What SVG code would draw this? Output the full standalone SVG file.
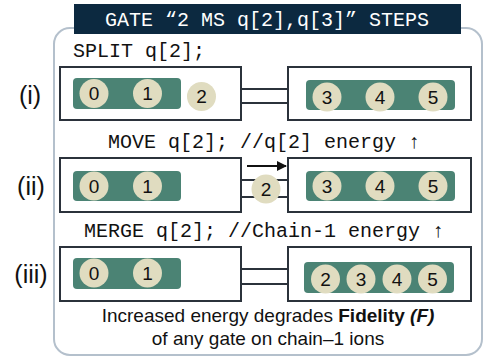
<svg xmlns="http://www.w3.org/2000/svg" width="485" height="360" viewBox="0 0 485 360">
<style>
.mono{font-family:"Liberation Mono","DejaVu Sans Mono",monospace;font-size:20px;fill:#111}
.hdr{font-family:"Liberation Mono","DejaVu Sans Mono",monospace;font-size:20px;fill:#fff}
.box{fill:#fff;stroke:#2b323b;stroke-width:2}
.chain{fill:#4b8374}
.ion{fill:#e0dcc0}
.num{font-family:"Liberation Sans",Arial,sans-serif;font-size:19px;fill:#111;text-anchor:middle}
.lbl{font-family:"Liberation Sans",Arial,sans-serif;font-size:25px;fill:#111;text-anchor:middle}
.note{font-family:"Liberation Sans",Arial,sans-serif;font-size:19px;fill:#111;text-anchor:middle}
.wire{stroke:#2b323b;stroke-width:2;fill:none}
</style>
<defs>
<marker id="ah" markerWidth="10" markerHeight="10" refX="9" refY="5" orient="auto" markerUnits="userSpaceOnUse"><path d="M0,0 L10,5 L0,10 Z" fill="#111"/></marker>
</defs>
<rect x="54" y="28" width="428" height="327" rx="16" fill="#fff" stroke="#b4c0cc" stroke-width="2"/>
<g id="header">
<rect x="74" y="4" width="387" height="30" fill="#0c2940"/>
<text class="hdr" x="267" y="26" text-anchor="middle">GATE “2 MS q[2],q[3]” STEPS</text>
</g>
<g id="step-labels">
<text class="mono" x="73" y="57">SPLIT q[2];</text>
<text class="mono" x="264" y="148" text-anchor="middle">MOVE q[2]; //q[2] energy ↑</text>
<text class="mono" x="264" y="237" text-anchor="middle">MERGE q[2]; //Chain-1 energy ↑</text>
<text class="lbl" x="30" y="104">(i)</text>
<text class="lbl" x="31" y="195">(ii)</text>
<text class="lbl" x="31" y="283">(iii)</text>
</g>
<g id="connectors">
<line class="wire" x1="241" y1="89" x2="288" y2="89"/>
<line class="wire" x1="241" y1="103" x2="288" y2="103"/>
<line class="wire" x1="241" y1="180" x2="288" y2="180"/>
<line class="wire" x1="241" y1="197" x2="288" y2="197"/>
<line class="wire" x1="241" y1="269" x2="288" y2="269"/>
<line class="wire" x1="241" y1="284" x2="288" y2="284"/>
<line x1="247" y1="166" x2="286" y2="166" stroke="#111" stroke-width="2" marker-end="url(#ah)"/>
</g>
<g id="row1-left">
<rect class="box" x="60" y="67" width="181" height="53"/>
<rect class="chain" x="73" y="78" width="108" height="31" rx="4"/>
<circle class="ion" cx="94" cy="93.5" r="14.5"/><text class="num" x="94" y="100">0</text>
<circle class="ion" cx="147.5" cy="93.5" r="14.5"/><text class="num" x="147.5" y="100">1</text>
<circle class="ion" cx="201.5" cy="96.5" r="14.5"/><text class="num" x="201.5" y="103">2</text>
</g>
<g id="row1-right">
<rect class="box" x="288" y="67" width="183" height="53"/>
<rect class="chain" x="306" y="80" width="149" height="30" rx="4"/>
<circle class="ion" cx="327" cy="97" r="14.5"/><text class="num" x="327" y="103.5">3</text>
<circle class="ion" cx="380" cy="97" r="14.5"/><text class="num" x="380" y="103.5">4</text>
<circle class="ion" cx="433" cy="97" r="14.5"/><text class="num" x="433" y="103.5">5</text>
</g>
<g id="row2-left">
<rect class="box" x="60" y="158" width="181" height="54"/>
<rect class="chain" x="73" y="171" width="108" height="30" rx="4"/>
<circle class="ion" cx="94" cy="186" r="14.5"/><text class="num" x="94" y="192.5">0</text>
<circle class="ion" cx="147.5" cy="186" r="14.5"/><text class="num" x="147.5" y="192.5">1</text>
</g>
<g id="row2-right">
<rect class="box" x="288" y="158" width="183" height="54"/>
<rect class="chain" x="306" y="171" width="149" height="30" rx="4"/>
<circle class="ion" cx="327" cy="186" r="14.5"/><text class="num" x="327" y="192.5">3</text>
<circle class="ion" cx="380" cy="186" r="14.5"/><text class="num" x="380" y="192.5">4</text>
<circle class="ion" cx="433" cy="186" r="14.5"/><text class="num" x="433" y="192.5">5</text>
</g>
<g id="row2-moving-ion">
<circle class="ion" cx="266" cy="189" r="14.5"/><text class="num" x="266" y="195.5">2</text>
</g>
<g id="row3-left">
<rect class="box" x="60" y="247" width="181" height="54"/>
<rect class="chain" x="73" y="258" width="108" height="31" rx="4"/>
<circle class="ion" cx="94" cy="273" r="14.5"/><text class="num" x="94" y="279.5">0</text>
<circle class="ion" cx="147.5" cy="273" r="14.5"/><text class="num" x="147.5" y="279.5">1</text>
</g>
<g id="row3-right">
<rect class="box" x="288" y="247" width="183" height="54"/>
<rect class="chain" x="304" y="262" width="150" height="31" rx="4"/>
<circle class="ion" cx="325.5" cy="279" r="14.5"/><text class="num" x="325.5" y="285.5">2</text>
<circle class="ion" cx="361" cy="279" r="14.5"/><text class="num" x="361" y="285.5">3</text>
<circle class="ion" cx="397" cy="279" r="14.5"/><text class="num" x="397" y="285.5">4</text>
<circle class="ion" cx="432.5" cy="279" r="14.5"/><text class="num" x="432.5" y="285.5">5</text>
</g>
<g id="caption">
<text class="note" x="268" y="322">Increased energy degrades <tspan font-weight="bold">Fidelity <tspan font-style="italic">(F)</tspan></tspan></text>
<text class="note" x="268" y="345">of any gate on chain–1 ions</text>
</g>
</svg>
